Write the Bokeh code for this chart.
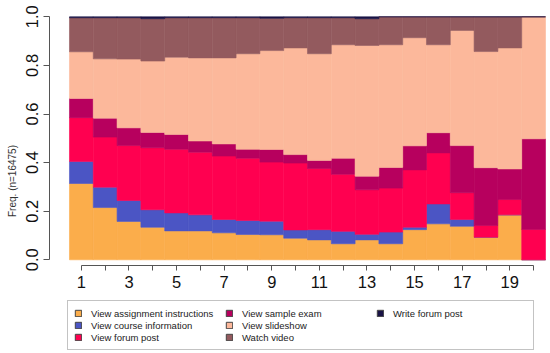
from bokeh.plotting import figure
from bokeh.models import (ColumnDataSource, FixedTicker, Legend, LegendItem, LinearAxis,
                          PrintfTickFormatter, Range1d)
from bokeh.embed import file_html
from bokeh.resources import INLINE

# ---- data (fraction of events per week, stacked bottom -> top) ----
weeks = list(range(1, 21))
series_names = ["View assignment instructions", "View course information", "View forum post",
                "View sample exam", "View slideshow", "Watch video", "Write forum post"]
assign = [0.314, 0.215, 0.158, 0.134, 0.119, 0.119, 0.111, 0.104, 0.103, 0.089,
          0.082, 0.066, 0.082, 0.066, 0.124, 0.148, 0.138, 0.093, 0.185, 0.0]
course = [0.091, 0.084, 0.086, 0.072, 0.074, 0.066, 0.055, 0.058, 0.056, 0.034,
          0.042, 0.051, 0.023, 0.048, 0.010, 0.082, 0.028, 0.0, 0.0, 0.0]
forum = [0.180, 0.206, 0.226, 0.255, 0.262, 0.258, 0.261, 0.256, 0.243, 0.275,
         0.252, 0.235, 0.183, 0.181, 0.236, 0.210, 0.110, 0.048, 0.063, 0.125]
exam = [0.079, 0.078, 0.073, 0.063, 0.061, 0.046, 0.050, 0.037, 0.052, 0.035,
        0.033, 0.066, 0.056, 0.085, 0.099, 0.083, 0.194, 0.238, 0.126, 0.373]
slide = [0.192, 0.244, 0.283, 0.294, 0.318, 0.342, 0.354, 0.393, 0.407, 0.439,
         0.439, 0.467, 0.538, 0.505, 0.445, 0.362, 0.474, 0.478, 0.498, 0.502]
video = [0.140, 0.169, 0.170, 0.174, 0.162, 0.165, 0.165, 0.148, 0.133, 0.124,
         0.148, 0.111, 0.110, 0.115, 0.086, 0.115, 0.056, 0.143, 0.128, 0.0]
write = [0.004, 0.004, 0.004, 0.008, 0.004, 0.004, 0.004, 0.004, 0.006, 0.004,
         0.004, 0.004, 0.008, 0.0, 0.0, 0.0, 0.0, 0.0, 0.0, 0.0]
y_ticks = [0.0, 0.2, 0.4, 0.6, 0.8, 1.0]
y_title = "Freq. (n=16475)"

colors = ["#FBAD4B", "#4B55C4", "#FF0050", "#B7005E", "#FCB89B", "#935A5E", "#1A1446"]
keys = ["assign", "course", "forum", "exam", "slide", "video", "write"]

source = ColumnDataSource(dict(week=weeks, assign=assign, course=course, forum=forum,
                               exam=exam, slide=slide, video=video, write=write))

FONT = "Liberation Sans"
X_AXIS_AT = -0.0235   # axis line sits slightly below zero, as in R

p = figure(width=550, height=353,
           x_range=Range1d(-0.34, 20.71), y_range=Range1d(-0.3856, 1.0342),
           output_backend="svg", toolbar_location=None, x_axis_location=None,
           min_border_left=49, min_border_right=0, min_border_top=8, min_border_bottom=0)
p.xgrid.visible = False
p.ygrid.visible = False
p.outline_line_color = None
p.background_fill_color = "white"

p.vbar_stack(keys, x="week", width=1.0, color=colors, line_width=0.6, source=source)

# x axis, drawn just under the bars
xaxis = LinearAxis(fixed_location=X_AXIS_AT)
xaxis.ticker = FixedTicker(ticks=weeks)
xaxis.major_label_overrides = {w: (str(w) if w % 2 == 1 else "") for w in weeks}
xaxis.bounds = (1, 20)
xaxis.major_tick_out = 5
xaxis.major_tick_in = 0
xaxis.minor_tick_line_color = None
xaxis.major_label_standoff = 5
xaxis.axis_line_color = "#555555"
xaxis.major_tick_line_color = "#555555"
xaxis.major_label_text_font = FONT
xaxis.major_label_text_font_size = "16.5px"
xaxis.major_label_text_color = "#111111"
p.add_layout(xaxis, "below")

# y axis
p.yaxis.ticker = FixedTicker(ticks=y_ticks)
p.yaxis.formatter = PrintfTickFormatter(format="%.1f")
p.yaxis.bounds = (0, 1)
p.yaxis.major_tick_out = 6
p.yaxis.major_tick_in = 0
p.yaxis.minor_tick_line_color = None
p.yaxis.major_label_standoff = 5
p.yaxis.major_label_orientation = "vertical"
p.yaxis.axis_line_color = "#555555"
p.yaxis.major_tick_line_color = "#555555"
p.yaxis.major_label_text_font = FONT
p.yaxis.major_label_text_font_size = "16.5px"
p.yaxis.major_label_text_color = "#111111"
p.yaxis.axis_label = y_title
p.yaxis.axis_label_standoff = 6
p.yaxis.axis_label_text_font = FONT
p.yaxis.axis_label_text_font_style = "normal"
p.yaxis.axis_label_text_font_size = "10px"
p.yaxis.axis_label_text_color = "#333333"

# legend keys: zero-size bars (nothing visible on the chart) that carry the
# fill colour plus a dark key border, like R's legend boxes
items = []
for name, col in zip(series_names, colors):
    r = p.vbar(x="week", width=0, bottom=0, top=0, source=source,
               fill_color=col, line_color="#444444", line_width=1)
    items.append(LegendItem(label=name, renderers=[r]))

legend = Legend(items=items, ncols=3, location=(18, 3),
                glyph_width=8, glyph_height=8, label_height=12, label_width=134,
                label_standoff=9, spacing=0, padding=6, margin=0,
                label_text_font=FONT, label_text_font_size="9.5px", label_text_color="#222222",
                border_line_color="#888888", border_line_width=1,
                background_fill_color="white", background_fill_alpha=1.0)
p.add_layout(legend, "center")

open("out.html", "w").write(file_html(p, INLINE))
